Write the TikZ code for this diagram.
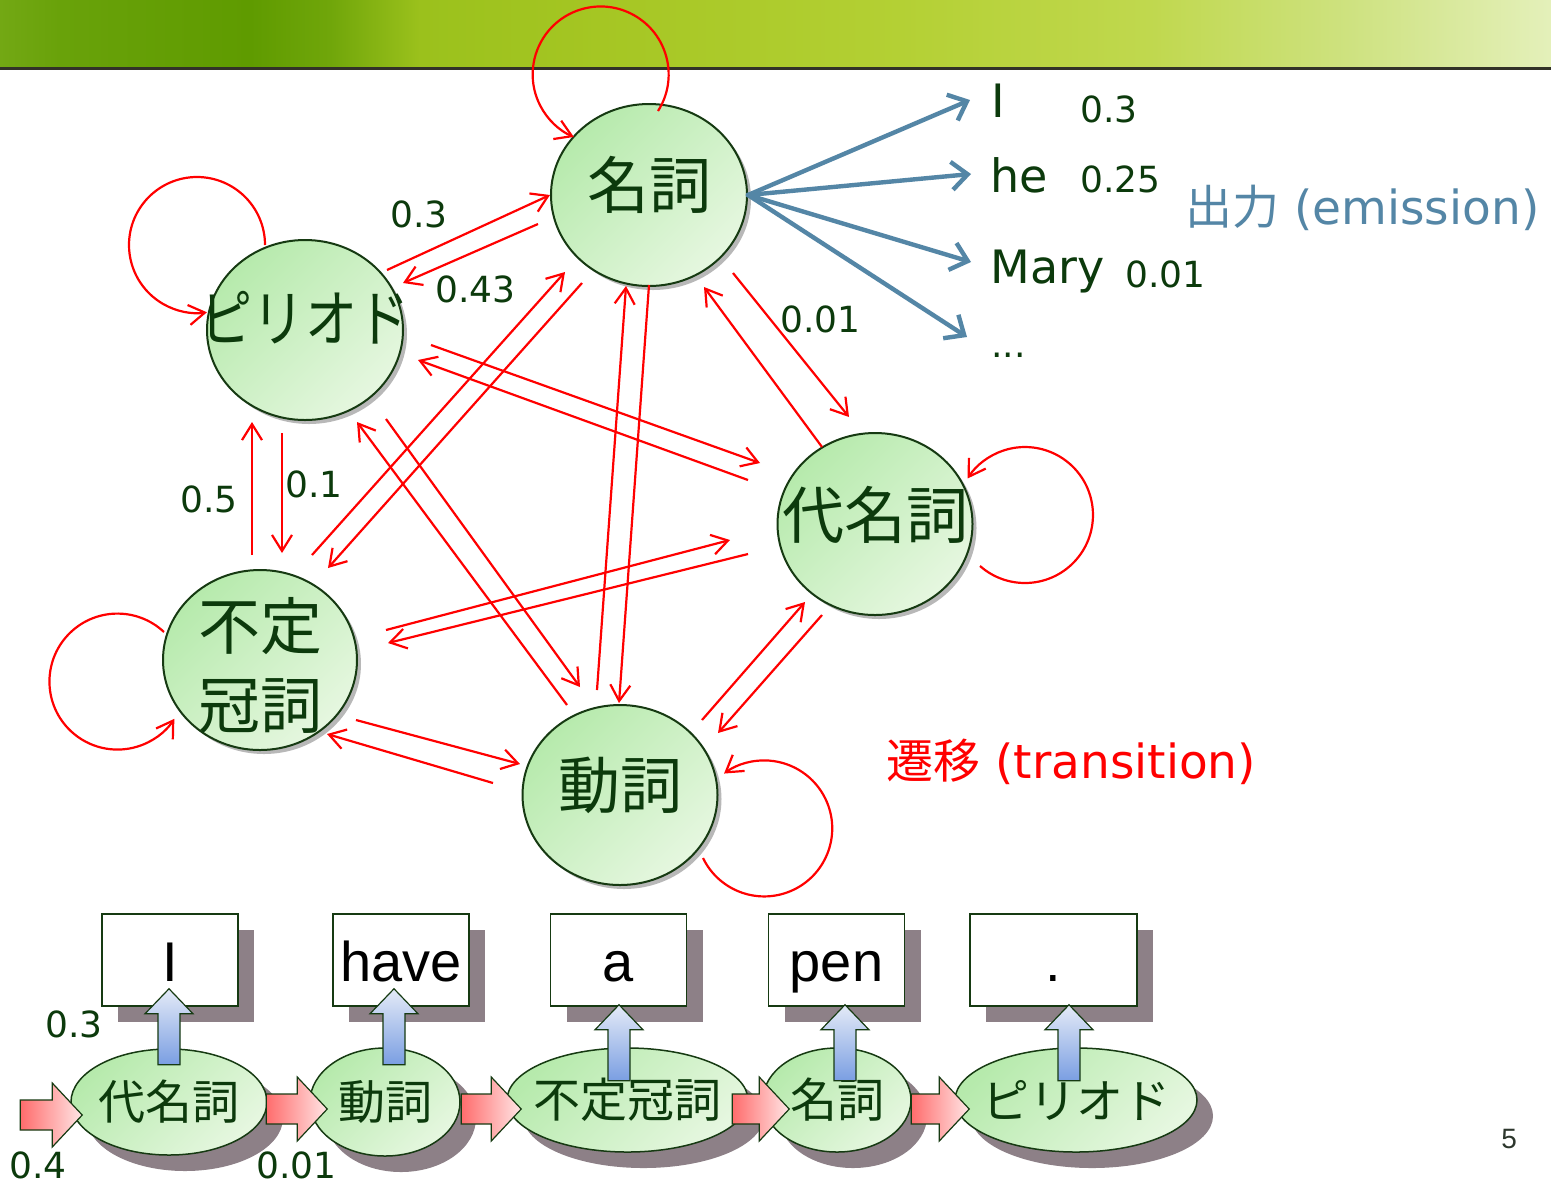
\documentclass[tikz,border=0pt]{standalone}
\usepackage{fontspec}
\setmainfont{DejaVu Sans}
\newfontfamily\cjk{Noto Sans CJK JP}
\newfontfamily\arialf{Liberation Sans}
\usetikzlibrary{arrows.meta,shapes.geometric,calc,shadows}

\definecolor{dkgreen}{RGB}{12,58,12}
\definecolor{bdgreen}{RGB}{22,58,18}
\definecolor{gtop}{RGB}{182,234,172}
\definecolor{gbot}{RGB}{230,247,224}
\definecolor{steel}{RGB}{84,134,166}
\definecolor{shgray}{RGB}{141,128,135}
\definecolor{pinkL}{RGB}{255,108,108}
\definecolor{pinkR}{RGB}{255,230,230}
\definecolor{blueT}{RGB}{228,234,247}
\definecolor{blueB}{RGB}{122,158,226}
\definecolor{barline}{RGB}{50,50,40}
\definecolor{bar0}{RGB}{115,168,20}
\definecolor{bar1}{RGB}{105,162,10}
\definecolor{bar2}{RGB}{95,155,0}
\definecolor{bar3}{RGB}{112,166,10}
\definecolor{bar4}{RGB}{155,193,28}
\definecolor{bar5}{RGB}{165,198,35}
\definecolor{bar6}{RGB}{180,208,52}
\definecolor{bar7}{RGB}{192,216,78}
\definecolor{bar8}{RGB}{206,226,128}
\definecolor{bar9}{RGB}{228,240,186}
\definecolor{pagenum}{RGB}{45,55,45}

\pgfdeclarehorizontalshading{barshade}{100bp}{color(0bp)=(bar0); color(25bp)=(bar0); color(26.93bp)=(bar1); color(33.06bp)=(bar2); color(35.64bp)=(bar3); color(38.54bp)=(bar4); color(44.34bp)=(bar5); color(54.01bp)=(bar6); color(62.07bp)=(bar7); color(68.52bp)=(bar8); color(75bp)=(bar9); color(100bp)=(bar9)}

\newcommand{\upblock}[2]{%
  \shade[draw=bdgreen, line width=0.6pt, top color=blueT, bottom color=blueB]
    #1 -- ++(24,25) -- ++(-13,0) -- ++(0,#2-25) -- ++(-22,0) -- ++(0,-#2+25) -- ++(-13,0) -- cycle;}
\newcommand{\rightblock}[2]{%
  \shade[draw=bdgreen, line width=0.6pt, left color=pinkL, right color=pinkR]
    #1 -- ++(-30,-32) -- ++(0,17) -- ++(-#2+30,0) -- ++(0,30) -- ++(#2-30,0) -- ++(0,17) -- cycle;}
\newcommand{\zw}[1]{\makebox[0pt]{#1}}

\begin{document}
\begin{tikzpicture}[x=0.5pt,y=-0.5pt,
  hmmstate/.style={ellipse, draw=bdgreen, line width=1pt, inner sep=0pt,
    top color=gtop, bottom color=gbot, shading angle=45,
    drop shadow={shadow xshift=2pt, shadow yshift=-2pt, opacity=.28, fill=black}},
  stlabel/.style={font=\cjk\fontsize{31}{39.5}\selectfont, text=dkgreen, align=center, inner sep=0pt},
  bstate/.style={ellipse, draw=bdgreen, line width=0.75pt, inner sep=0pt,
    top color=gtop, bottom color=gbot, shading angle=45,
    font=\cjk\fontsize{23.5}{28}\selectfont, text=dkgreen,
    drop shadow={shadow xshift=8pt, shadow yshift=-8pt, fill=shgray, opacity=1}},
  wbox/.style={rectangle, draw=bdgreen, line width=0.75pt, fill=white, inner sep=0pt,
    minimum width=68pt, minimum height=46pt,
    font=\arialf\fontsize{28}{33}\selectfont, text=black, text height=21pt, text depth=0pt,
    drop shadow={shadow xshift=8pt, shadow yshift=-8pt, fill=shgray, opacity=1}},
  tr/.style={draw=red, line width=1.1pt, -{Straight Barb[length=8pt,width=10pt]}},
  emit/.style={draw=steel, line width=2.2pt, line cap=round, -{Straight Barb[length=8pt,width=14pt]}},
  word/.style={font=\fontsize{23}{27}\selectfont, text=dkgreen, inner sep=0pt, anchor=base west},
  num/.style={font=\fontsize{18}{21}\selectfont, text=dkgreen, inner sep=0pt, anchor=base west}
]
\useasboundingbox (0,0) rectangle (1551,1185);
\fill[white] (0,0) rectangle (1551,1185);
% header bar
\shade[shading=barshade] (0,0) rectangle (1551,67);
\draw[line width=1.25pt, draw=barline] (0,68.5) -- (1551,68.5);

% states
\node[hmmstate, minimum width=98pt, minimum height=91pt,
  label={[stlabel, yshift=5pt]center:名詞}] (N) at (649,195) {};
\node[hmmstate, minimum width=98pt, minimum height=90pt,
  label={[stlabel, yshift=6pt]center:\scalebox{0.84}[1]{ピリオド}}] (P) at (305,330) {};
\node[hmmstate, minimum width=97.5pt, minimum height=91pt,
  label={[stlabel, yshift=4.5pt]center:代名詞}] (D) at (875,524) {};
\node[hmmstate, minimum width=97pt, minimum height=90pt,
  label={[stlabel, yshift=-2.5pt]center:不定\\冠詞}] (F) at (260,660) {};
\node[hmmstate, minimum width=97.5pt, minimum height=90pt,
  label={[stlabel, yshift=5pt]center:動詞}] (V) at (620,795) {};

% transitions
\draw[tr] ($(P.center)+(82,-60)$) -- ($(N.center)+(-99,0)$);
\draw[tr] ($(N.center)+(-111,29)$) -- ($(P.center)+(98,-47)$);
\draw[tr] ($(P.center)+(-23,103)$) -- ($(F.center)+(22,-107)$);
\draw[tr] ($(F.center)+(-8,-105)$) -- ($(P.center)+(-53,92)$);
\draw[tr] ($(F.center)+(52,-105)$) -- ($(N.center)+(-84,77)$);
\draw[tr] ($(N.center)+(-67,88)$) -- ($(F.center)+(68,-92)$);
\draw[tr] ($(P.center)+(126,15)$) -- ($(D.center)+(-115,-61)$);
\draw[tr] ($(D.center)+(-127,-44)$) -- ($(P.center)+(113,30)$);
\draw[tr] ($(P.center)+(81,89)$) -- ($(V.center)+(-40,-108)$);
\draw[tr] ($(V.center)+(-53,-90)$) -- ($(P.center)+(52,92)$);
\draw[tr] ($(N.center)+(84,78)$) -- ($(D.center)+(-26,-107)$);
\draw[tr] ($(D.center)+(-53,-77)$) -- ($(N.center)+(55,92)$);
\draw[tr] ($(N.center)+(0,90)$) -- ($(V.center)+(-1,-92)$);
\draw[tr] ($(V.center)+(-23,-105)$) -- ($(N.center)+(-23,91)$);
\draw[tr] ($(F.center)+(126,-30)$) -- ($(D.center)+(-145,16)$);
\draw[tr] ($(D.center)+(-127,30)$) -- ($(F.center)+(128,-17)$);
\draw[tr] ($(V.center)+(82,-75)$) -- ($(D.center)+(-70,78)$);
\draw[tr] ($(D.center)+(-53,91)$) -- ($(V.center)+(98,-62)$);
\draw[tr] ($(F.center)+(96,60)$) -- ($(V.center)+(-100,-31)$);
\draw[tr] ($(V.center)+(-127,-12)$) -- ($(F.center)+(67,74)$);

% self loops
\draw[tr] ($(N.center)+(9,-84)$) arc[start angle=-32.5, end angle=246.8, radius=34pt];
\draw[tr] ($(P.center)+(-40,-85)$) arc[start angle=0, end angle=278.4, radius=34pt];
\draw[tr] ($(D.center)+(105,42)$) arc[start angle=228.6, end angle=507.5, radius=34pt];
\draw[tr] ($(F.center)+(-96,-28)$) arc[start angle=46.8, end angle=326.8, radius=34pt];
\draw[tr] ($(V.center)+(83,63)$) arc[start angle=205.8, end angle=486.2, radius=34pt];

% transition labels
\node[num] (t1) at (390,227) {0.3};
\node[num] (t2) at (435,302) {0.43};
\node[num] (t3) at (180,512) {0.5};
\node[num] (t4) at (285,497) {0.1};
\node[num] (t5) at (780,332) {0.01};

% emissions
\coordinate (e1) at (970,100);
\coordinate (e2) at (971,174);
\coordinate (e3) at (971,262);
\coordinate (e4) at (967,337);
\draw[emit] (N.east) -- (e1);
\draw[emit] (N.east) -- (e2);
\draw[emit] (N.east) -- (e3);
\draw[emit] (N.east) -- (e4);
\node[word] (wI) at (991,117) {I};
\node[word] (whe) at (990,192) {he};
\node[word] (wmary) at (990,283) {Mary};
\node[num] (wdots) at (991,357) {...};
\node[num] (p1) at (1080,122) {0.3};
\node[num] (p2) at (1080,192) {0.25};
\node[num] (p3) at (1125,287) {0.01};
\node[anchor=base west, inner sep=0pt, text=steel, font=\fontsize{23.5}{28}\selectfont] (emis) at (1185,224) {{\cjk 出力} (emission)};
\node[anchor=base west, inner sep=0pt, text=red, font=\fontsize{23.5}{28}\selectfont] (trans) at (886,778) {{\cjk 遷移} (transition)};

% bottom sequence: ellipses
\node[bstate, minimum width=98pt, minimum height=53pt] (E1) at (169,1102) {\zw{代名詞}};
\node[bstate, minimum width=75pt, minimum height=54pt] (E2) at (385,1102) {\zw{動詞}};
\node[bstate, minimum width=120.5pt, minimum height=52pt] (E3) at (627.5,1100) {\zw{不定冠詞}};
\node[bstate, minimum width=74pt, minimum height=52pt] (E4) at (837,1100) {\zw{名詞}};
\node[bstate, minimum width=121pt, minimum height=52pt] (E5) at (1076,1100) {\zw{ピリオド}};

% words
\node[wbox] (B1) at (170,960) {I};
\node[wbox] (B2) at (401,960) {have};
\node[wbox] (B3) at (618.5,960) {a};
\node[wbox] (B4) at (836.5,960) {pen};
\node[wbox, minimum width=83.5pt] (B5) at (1053.5,960) {.};

% emission block arrows
\upblock{($(B1.south)+(-1,-18)$)}{76}
\upblock{($(B2.south)+(-7,-18)$)}{76}
\upblock{($(B3.south)+(0.5,-2)$)}{76}
\upblock{($(B4.south)+(8.5,-2)$)}{76}
\upblock{($(B5.south)+(15.5,-2)$)}{76}

% transition block arrows
\rightblock{($(E1.west)+(12,13)$)}{62}
\rightblock{($(E2.west)+(18,7)$)}{61}
\rightblock{($(E3.west)+(15,9)$)}{60}
\rightblock{($(E4.west)+(27,9)$)}{57}
\rightblock{($(E5.west)+(15,9)$)}{58}

% bottom numbers
\node[num] (b03) at (45,1037) {0.3};
\node[num] (b04) at (9,1178) {0.4};
\node[num] (b001) at (256,1178) {0.01};
\node[anchor=base west, inner sep=0pt, text=pagenum, font=\arialf\fontsize{14}{17}\selectfont] (pg) at (1501,1148) {5};
\end{tikzpicture}
\end{document}
